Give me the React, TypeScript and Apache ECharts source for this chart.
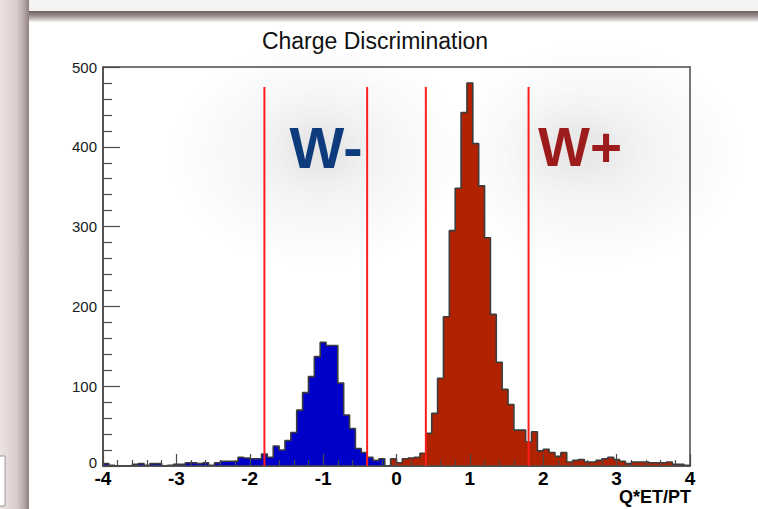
import { useEffect, useRef } from 'react';
import * as echarts from 'echarts';

// Histogram binning: 100 bins of width 0.08 on [-4, 4]
const BIN_MIN = -4;
const BIN_WIDTH = 0.08;

// Negative-charge candidates (first bin at index 0)
const W_MINUS_FIRST_BIN = 0;
const W_MINUS_COUNTS = [
  3, 1, 0, 0, 0, 2, 3, 1, 3, 3,
  0, 1, 2, 2, 4, 4, 3, 4, 1, 4,
  6, 6, 6, 11, 10, 9, 9, 15, 11, 25,
  20, 32, 42, 70, 92, 112, 137, 155, 151, 151,
  104, 64, 47, 22, 17, 11, 7, 9, 0,
];

// Positive-charge candidates (first bin at index 49, i.e. x = -0.08)
const W_PLUS_FIRST_BIN = 49;
const W_PLUS_COUNTS = [
  9, 4, 9, 10, 11, 16, 41, 66, 110, 187,
  295, 348, 443, 480, 404, 351, 286, 190, 130, 96,
  77, 45, 45, 30, 43, 19, 21, 17, 12, 17,
  5, 7, 8, 5, 5, 7, 9, 11, 8, 6,
  3, 5, 5, 5, 4, 4, 4, 5, 2, 2,
  1,
];

// Selection cuts on Q*ET/PT
const CUT_VALUES = [-1.8, -0.4, 0.4, 1.8];
const CUT_HEIGHT = 475;

const X_MIN = -4;
const X_MAX = 4;
const Y_MIN = 0;
const Y_MAX = 500;

const TITLE = 'Charge Discrimination';
const X_TITLE = 'Q*ET/PT';
const LABEL_MINUS = 'W-';
const LABEL_PLUS = 'W+';

const FONT = '"Liberation Sans", Arial, Helvetica, sans-serif';
const FRAME = '#4a4a4a';

function edge(k: number): number {
  return +(BIN_MIN + k * BIN_WIDTH).toFixed(4);
}

// Outline points for a filled step histogram (closed down to zero at both ends)
function histogramSteps(firstBin: number, counts: number[]): [number, number][] {
  const pts: [number, number][] = [[edge(firstBin), 0]];
  counts.forEach((c, i) => pts.push([edge(firstBin + i), c]));
  const end = edge(firstBin + counts.length);
  pts.push([end, counts[counts.length - 1]]);
  pts.push([end, 0]);
  return pts;
}

function histSeries(name: string, firstBin: number, counts: number[], fill: string) {
  return {
    name,
    type: 'line',
    step: 'end',
    data: histogramSteps(firstBin, counts),
    symbol: 'none',
    silent: true,
    z: 2,
    lineStyle: { color: '#3c3c3c', width: 1.6 },
    areaStyle: { color: fill, opacity: 1 },
  };
}

// Soft glow painted behind each charge label
function glow(cx: number, cy: number, rx: number, ry: number) {
  return {
    type: 'ellipse',
    silent: true,
    z: -5,
    shape: { cx, cy, rx, ry },
    style: {
      fill: new echarts.graphic.RadialGradient(0.5, 0.5, 0.5, [
        { offset: 0, color: 'rgba(0,0,0,0.065)' },
        { offset: 0.5, color: 'rgba(0,0,0,0.035)' },
        { offset: 1, color: 'rgba(0,0,0,0)' },
      ]),
    },
  };
}

function chargeLabel(text: string, x: number, size: number, color: string) {
  return {
    type: 'text',
    silent: true,
    z: 1,
    x,
    y: 147,
    style: {
      text,
      fontFamily: FONT,
      fontSize: size,
      fontWeight: 'bold',
      fill: color,
      align: 'center',
      verticalAlign: 'middle',
      textShadowColor: 'rgba(0,0,0,0.15)',
      textShadowBlur: 40,
    },
  };
}

export default function App() {
  const ref = useRef<HTMLDivElement>(null);

  useEffect(() => {
    if (!ref.current) return;
    const chart = echarts.init(ref.current, undefined, { renderer: 'svg' });

    const option = {
      animation: false,
      backgroundColor: '#ffffff',
      grid: {
        left: 103,
        right: 68,
        top: 67,
        bottom: 43,
        show: true,
        backgroundColor: 'transparent',
        borderColor: FRAME,
        borderWidth: 1.5,
      },
      xAxis: {
        type: 'value',
        min: X_MIN,
        max: X_MAX,
        interval: 1,
        z: 4,
        axisLine: { show: true, onZero: false, lineStyle: { color: FRAME, width: 1.5 } },
        axisTick: { show: true, inside: true, length: 12, lineStyle: { color: FRAME, width: 1.2 } },
        minorTick: { show: true, splitNumber: 5, length: 6, lineStyle: { color: FRAME, width: 1.2 } },
        splitLine: { show: false },
        axisLabel: {
          margin: 4,
          fontFamily: FONT,
          fontSize: 19,
          fontWeight: 'bold',
          color: '#000',
          lineHeight: 16,
        },
      },
      yAxis: {
        type: 'value',
        min: Y_MIN,
        max: Y_MAX,
        interval: 100,
        z: 4,
        axisLine: { show: true, onZero: false, lineStyle: { color: FRAME, width: 1.5 } },
        axisTick: { show: true, inside: true, length: 17, lineStyle: { color: FRAME, width: 1.2 } },
        minorTick: { show: true, splitNumber: 5, length: 9, lineStyle: { color: FRAME, width: 1.2 } },
        splitLine: { show: false },
        axisLabel: {
          margin: 6,
          fontFamily: FONT,
          fontSize: 15,
          color: '#1a1a1a',
          lineHeight: 13,
          // the zero label sits a little above its tick, clear of the x labels
          formatter: (v: number) => (v === 0 ? '{zero|0}' : String(v)),
          rich: {
            zero: { fontFamily: FONT, fontSize: 15, color: '#1a1a1a', lineHeight: 13, padding: [0, 0, 7, 0] },
          },
        },
      },
      series: [
        histSeries('W-', W_MINUS_FIRST_BIN, W_MINUS_COUNTS, '#0000c8'),
        histSeries('W+', W_PLUS_FIRST_BIN, W_PLUS_COUNTS, '#b02200'),
        {
          name: 'cuts',
          type: 'custom',
          silent: true,
          z: 5,
          data: CUT_VALUES.map((v) => [v, CUT_HEIGHT]),
          encode: { x: 0, y: 1 },
          renderItem: (_params: any, api: any) => {
            const bottom = api.coord([api.value(0), 0]);
            const top = api.coord([api.value(0), api.value(1)]);
            return {
              type: 'line',
              shape: { x1: bottom[0], y1: bottom[1], x2: top[0], y2: top[1] },
              style: { stroke: '#ff1c1c', lineWidth: 2 },
            };
          },
        },
      ],
      graphic: [
        // slide backdrop around the plot panel
        { type: 'rect', silent: true, z: -10, shape: { x: 0, y: 0, width: 758, height: 11 }, style: { fill: '#f4f2f2' } },
        {
          type: 'rect',
          silent: true,
          z: -9,
          shape: { x: 0, y: 11, width: 758, height: 11 },
          style: {
            fill: new echarts.graphic.LinearGradient(0, 0, 0, 1, [
              { offset: 0, color: '#6e5f5f' },
              { offset: 0.45, color: '#9c9090' },
              { offset: 1, color: '#f6f3f3' },
            ]),
          },
        },
        {
          type: 'rect',
          silent: true,
          z: -8,
          shape: { x: 0, y: 0, width: 29, height: 509 },
          style: {
            fill: new echarts.graphic.LinearGradient(0, 0, 1, 0, [
              { offset: 0, color: '#ece2e2' },
              { offset: 0.55, color: '#ddcdcd' },
              { offset: 0.82, color: '#b8aaaa' },
              { offset: 1, color: '#8e8080' },
            ]),
          },
        },
        {
          type: 'rect',
          silent: true,
          z: -7,
          shape: { x: -2, y: 456, width: 7, height: 50 },
          style: { fill: '#ffffff', stroke: '#9a9a9a', lineWidth: 1 },
        },
        glow(318, 155, 150, 115),
        glow(595, 155, 150, 115),
        // title
        {
          type: 'text',
          silent: true,
          z: 1,
          x: 375,
          y: 41,
          style: {
            text: TITLE,
            fontFamily: FONT,
            fontSize: 23,
            fill: '#111',
            align: 'center',
            verticalAlign: 'middle',
          },
        },
        // charge labels
        chargeLabel(LABEL_MINUS, 326, 58, '#0c3a7c'),
        chargeLabel(LABEL_PLUS, 580, 55, '#9c1c1c'),
        // x-axis title
        {
          type: 'text',
          silent: true,
          z: 1,
          x: 691,
          y: 497,
          style: {
            text: X_TITLE,
            fontFamily: FONT,
            fontSize: 18,
            fontWeight: 'bold',
            fill: '#000',
            align: 'right',
            verticalAlign: 'middle',
          },
        },
      ],
    };

    chart.setOption(option as any);
    return () => chart.dispose();
  }, []);

  return (
    <div
      ref={ref}
      style={{ position: 'fixed', left: 0, top: 0, width: 758, height: 509 }}
    />
  );
}
